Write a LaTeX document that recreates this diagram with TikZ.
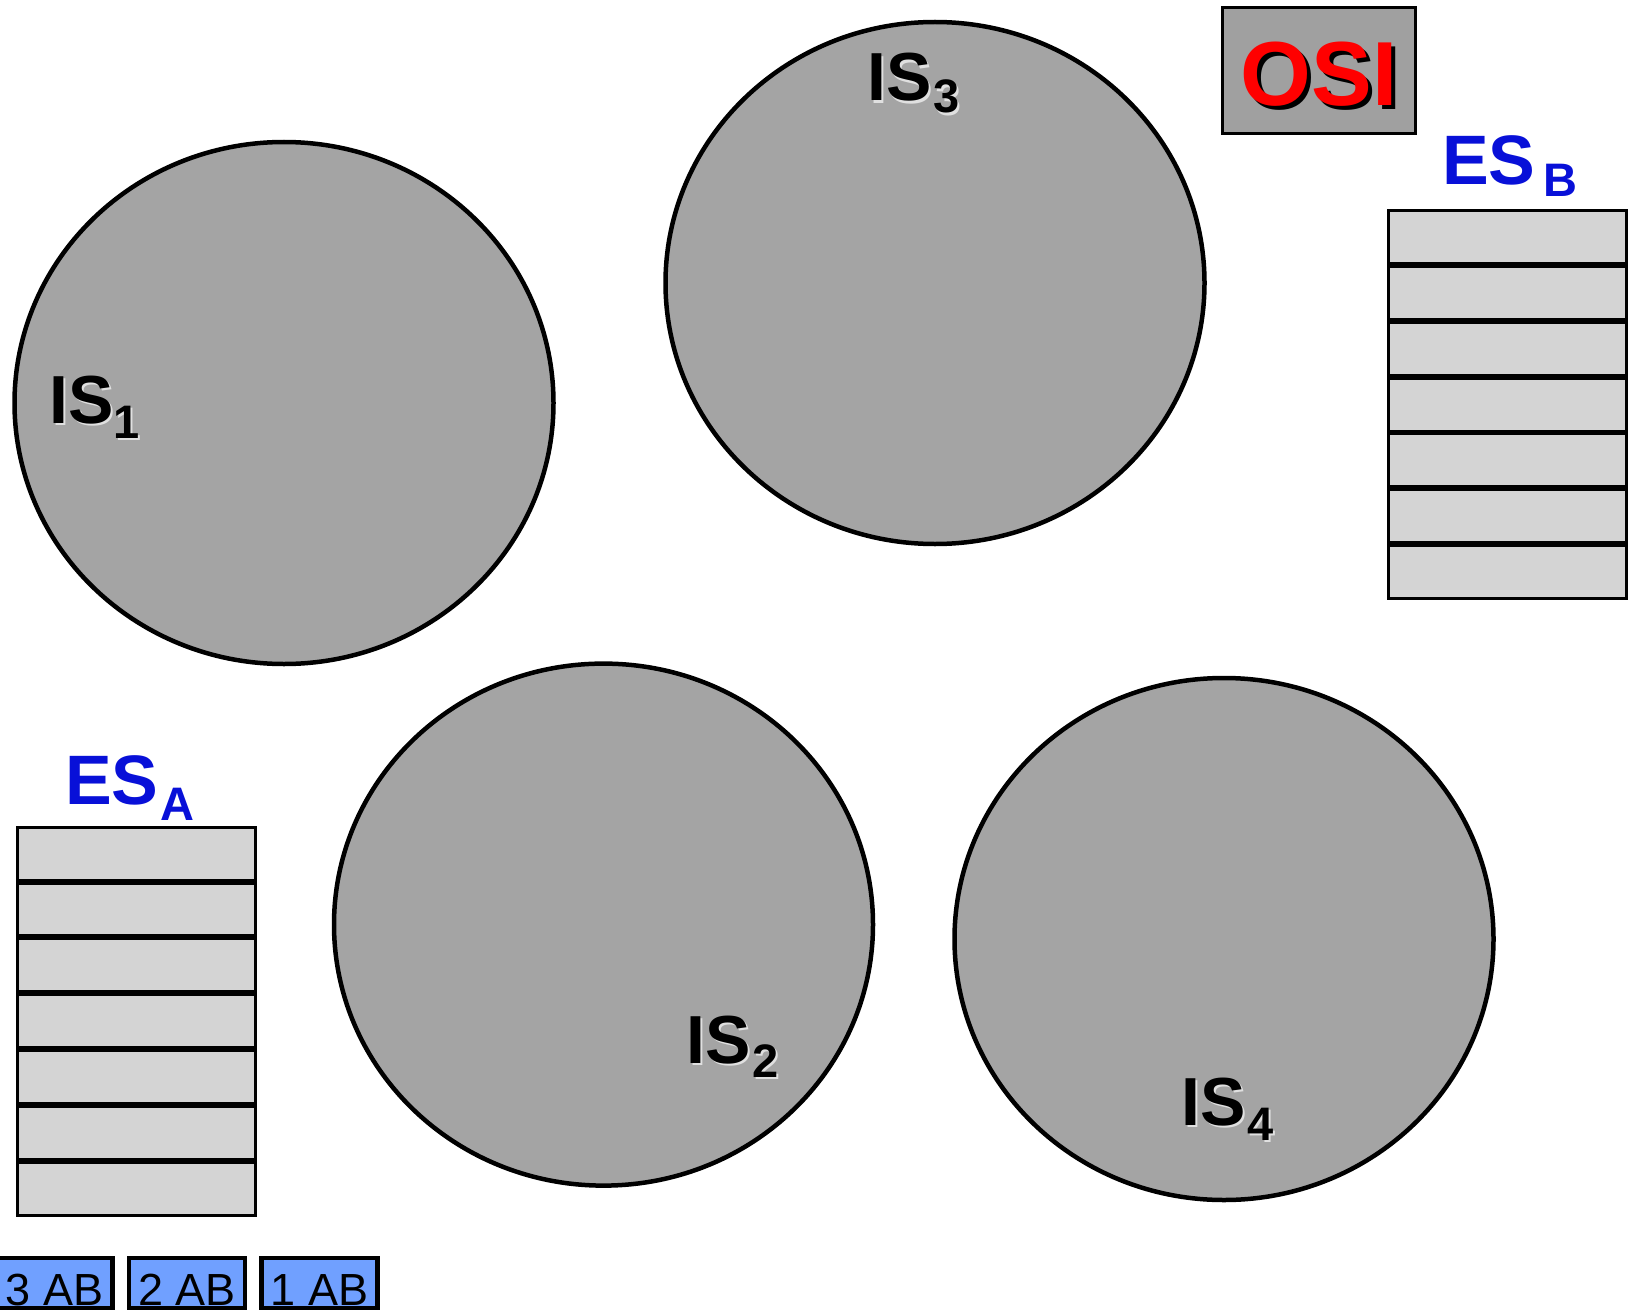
\documentclass[tikz,border=0pt]{standalone}
\usepackage{fontspec}
\setmainfont{Liberation Sans}
\usetikzlibrary{shapes.geometric}
\definecolor{isgray}{RGB}{164,164,164}
\definecolor{layergray}{RGB}{212,212,212}
\definecolor{osigray}{RGB}{160,160,160}
\definecolor{esblue}{RGB}{8,16,216}
\definecolor{abblue}{RGB}{112,160,255}
\newcommand{\shadowed}[3]{\makebox[0pt][l]{\hspace*{#2}\raisebox{-#2}{\color{#1}#3}}#3}
\newcommand{\bigsz}{\fontsize{68}{68}\selectfont\bfseries}
\newcommand{\subsz}{\fontsize{47}{47}\selectfont\bfseries}
\begin{document}
\begin{tikzpicture}[x=1pt, y=-1pt,
    isnode/.style={ellipse, draw, line width=4.5pt, fill=isgray, minimum width=539pt, minimum height=522pt, inner sep=0pt},
    islabel/.style={anchor=base west, inner sep=0pt, font=\bigsz},
    layer/.style={rectangle, draw, line width=3pt, fill=layergray, minimum width=237.7pt, minimum height=52.9pt, inner sep=0pt},
    eslabel/.style={anchor=base west, inner sep=0pt, text=esblue, font=\fontsize{70}{70}\selectfont\bfseries},
    abbox/.style={draw, line width=4.5pt, fill=abblue, minimum width=116pt, minimum height=50pt, inner sep=0pt, text height=44pt, text depth=0pt, font=\fontsize{45}{45}\selectfont}]
    \useasboundingbox (0,0) rectangle (1628,1311);
    \clip (0,0) rectangle (1628,1311);

    % 中间系统 IS
    \node[isnode] (is1) at (284,403) {};
    \node[isnode] (is3) at (935,283) {};
    \node[isnode] (is2) at (603.5,924.6) {};
    \node[isnode] (is4) at (1224,939) {};
    \node[islabel] (is1lbl) at (49,423) {\shadowed{white!88!black}{2.5pt}{IS\raisebox{-15pt}{\subsz 1}}};
    \node[islabel] (is3lbl) at (867,101) {\shadowed{white!88!black}{2.5pt}{IS\hspace{2pt}\raisebox{-12pt}{\subsz 3}}};
    \node[islabel] (is2lbl) at (686,1063) {\shadowed{white!88!black}{2.5pt}{IS\hspace{2pt}\raisebox{-14pt}{\subsz 2}}};
    \node[islabel] (is4lbl) at (1181,1125) {\shadowed{white!88!black}{2.5pt}{IS\hspace{2pt}\raisebox{-15pt}{\subsz 4}}};

    % OSI 标题
    \node[draw, line width=3pt, fill=osigray, minimum width=193.3pt, minimum height=126.3pt, inner sep=0pt,
          text=red, text height=71pt, text depth=0pt, font=\fontsize{91}{91}\selectfont\bfseries]
          (osi) at (1319,70.4) {\shadowed{black}{4pt}{OSI}};

    % 端系统 ES_B
    \node[eslabel] (esblbl) at (1442,185) {ES\hspace{8pt}\raisebox{-12pt}{\subsz B}};
    \foreach \i in {1,...,7} {
        \node[layer] (esb-\i) at (1507.3,{209.3+27.9+(\i-1)*55.8}) {};
    }

    % 端系统 ES_A
    \node[eslabel] (esalbl) at (65,804) {ES\hspace{2pt}\raisebox{-16pt}{\subsz A}};
    \foreach \i in {1,...,7} {
        \node[layer] (esa-\i) at (136.4,{825.7+27.9+(\i-1)*55.9}) {};
    }

    % 数据块
    \node[abbox] (ab3) at (54.5,1283) {3 AB};
    \node[abbox] (ab2) at (187.2,1283) {2 AB};
    \node[abbox] (ab1) at (319.5,1283) {1 AB};
\end{tikzpicture}
\end{document}
